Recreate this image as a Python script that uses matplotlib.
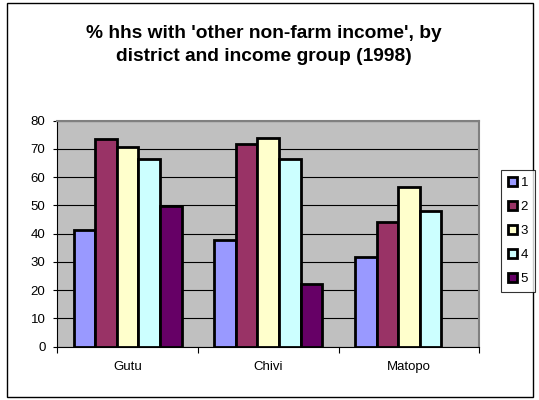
import numpy as np
import matplotlib
matplotlib.use("Agg")
import matplotlib.pyplot as plt
from matplotlib.patches import Rectangle

# data
districts = ["Gutu", "Chivi", "Matopo"]
groups = ["1", "2", "3", "4", "5"]
values = {
    "1": [41.3, 37.6, 31.9],
    "2": [73.4, 71.8, 44.2],
    "3": [70.8, 74.0, 56.6],
    "4": [66.4, 66.4, 48.0],
    "5": [49.9, 22.1, 0.0],
}
colors = ["#9999FF", "#993366", "#FFFFCC", "#CCFFFF", "#660066"]
y_ticks = [0, 10, 20, 30, 40, 50, 60, 70, 80]

plt.rcParams["font.family"] = ["Liberation Sans", "DejaVu Sans"]

W, H = 539, 400
fig = plt.figure(figsize=(W / 100, H / 100), dpi=100)
ax = fig.add_axes([57.3 / W, 1 - 346.7 / H, (479.3 - 57.3) / W, (346.7 - 120.7) / H])

# outer chart border
fig.patches.append(Rectangle((6.5 / W, 3 / H), (533 - 6.5) / W, (397 - 3) / H,
                             transform=fig.transFigure, fill=False,
                             edgecolor="black", linewidth=1.0))

# bars: Excel style, 150% gap
x = np.arange(len(districts))
n = len(groups)
w = 1 / (n + 1.5)
for i, g in enumerate(groups):
    vals = np.array(values[g])
    xs = x - (n - 1) / 2 * w + i * w
    mask = vals > 0
    ax.bar(xs[mask], vals[mask], width=w, color=colors[i], edgecolor="black",
           linewidth=2.0, label=g, zorder=3)

ax.set_facecolor("#C0C0C0")
ax.set_xlim(-0.5, 2.5)
ax.set_ylim(0, 80)
ax.set_yticks(y_ticks)
ax.yaxis.grid(True, color="black", linewidth=0.8, zorder=1)

ax.set_xticks(x)
ax.set_xticklabels(districts, fontsize=9.5)
ax.set_xticks([-0.5, 0.5, 1.5, 2.5], minor=True)
ax.tick_params(axis="x", which="major", length=0, pad=10)
ax.tick_params(axis="x", which="minor", length=4, width=0.8, direction="out")
ax.tick_params(axis="y", length=3, width=0.8, pad=5.5, labelsize=9.5)

for side in ["top", "right"]:
    ax.spines[side].set_color("#808080")
    ax.spines[side].set_linewidth(1.5)
for side in ["left", "bottom"]:
    ax.spines[side].set_color("black")
    ax.spines[side].set_linewidth(0.8)

fig.text(264 / W, 1 - 45 / H,
         "% hhs with 'other non-farm income', by\ndistrict and income group (1998)",
         ha="center", va="center", fontsize=13.8, fontweight="bold",
         linespacing=1.4)

leg = fig.legend(loc="upper left", bbox_to_anchor=(501 / W, 1 - 170 / H),
                 fontsize=9.5, frameon=True, fancybox=False, edgecolor="black",
                 handlelength=0.7, handleheight=0.7, handletextpad=0.3,
                 labelspacing=0.9, borderpad=0.5, borderaxespad=0)
leg.get_frame().set_linewidth(0.8)

fig.savefig("out.png", dpi=100)
